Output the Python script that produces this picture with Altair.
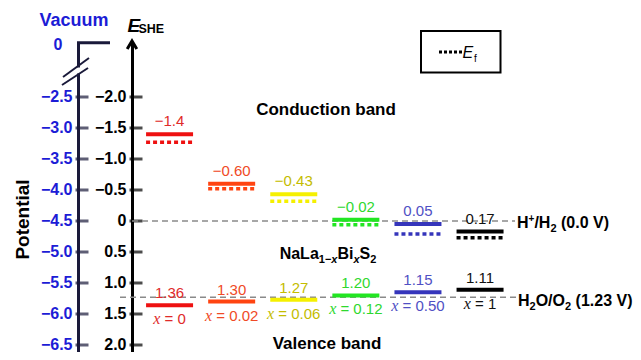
import altair as alt
import pandas as pd

# ---------------- data ----------------
compositions = ["0", "0.02", "0.06", "0.12", "0.50", "1"]
cb_values = [-1.4, -0.60, -0.43, -0.02, 0.05, 0.17]
cb_labels = ["\u22121.4", "\u22120.60", "\u22120.43", "\u22120.02", "0.05", "0.17"]
vb_values = [1.36, 1.30, 1.27, 1.20, 1.15, 1.11]
vb_labels = ["1.36", "1.30", "1.27", "1.20", "1.15", "1.11"]
ef_values = [-1.27, -0.52, -0.32, 0.06, 0.21, 0.27]
she_ticks = [-2.0, -1.5, -1.0, -0.5, 0.0, 0.5, 1.0, 1.5, 2.0]
redox_levels = [0.0, 1.23]
VAC_SHIFT = -4.5  # E(vacuum) = -4.5 - E(SHE)

# ---------------- style ----------------
bar_colors = ["#ee1111", "#ff4411", "#f5f000", "#22e622", "#3535bb", "#000000"]
text_colors = ["#e02a2a", "#f04a26", "#c4bc00", "#2fd82f", "#5050c4", "#111111"]
BLUE = "#1c1cd6"
NAVY = "#1a1a3a"
FONT = "Liberation Sans"

PLOT_W, PLOT_H = 501, 310
PAD_L, PAD_T = 124, 34
X_DOM = [-0.605, 7.463]
Y_DOM = [-2.887, 2.113]
PX = PLOT_W / (X_DOM[1] - X_DOM[0])
PY = PLOT_H / (Y_DOM[1] - Y_DOM[0])
ORG_X, ORG_Y = PAD_L + 8, PAD_T + 8


def ux(px):
    return X_DOM[0] + (px - ORG_X) / PX


def uy(py):
    return Y_DOM[0] + (py - ORG_Y) / PY


HALF = 23.5 / PX
she_x = X_DOM[0]
vac_x = ux(78)

xs = alt.Scale(domain=X_DOM, nice=False, zero=False)
ys = alt.Scale(domain=Y_DOM, reverse=True, nice=False, zero=False)
stroke_scale = alt.Scale(domain=compositions, range=bar_colors)
fill_scale = alt.Scale(domain=compositions, range=text_colors)


def X(f):
    return alt.X(f, type="quantitative", scale=xs, axis=None)


def Y(f, axis=None):
    return alt.Y(f, type="quantitative", scale=ys, axis=axis)


# approximate Arial advance widths (em)
WID = {" ": 0.278, "\u00a0": 0.278, "=": 0.584, ".": 0.278, "(": 0.333, ")": 0.333,
       "/": 0.278, "+": 0.584, "\u2212": 0.584, "V": 0.667, "H": 0.722, "O": 0.778,
       "N": 0.722, "a": 0.556, "L": 0.611, "B": 0.722, "i": 0.278, "S": 0.667, "x": 0.556}


def tw(s, size):
    return sum(WID.get(c, 0.556) for c in s) * size


def rich(pieces, x_px, base_py, align="left"):
    """pieces: (text, size, baseline shift px, italic); leading spaces become gaps"""
    total = sum(tw(t, s) for t, s, _, _ in pieces)
    cur = x_px - (total / 2 if align == "center" else 0)
    rows = []
    for t, s, sh, it in pieces:
        shown = t.lstrip(" ")
        lead = tw(t[: len(t) - len(shown)], s)
        rows.append({"text": shown, "x": ux(cur + lead), "y": uy(base_py + sh), "s": s, "it": it})
        cur += tw(t, s)
    return rows


LBL = 15
SP = tw(" ", LBL)
df = pd.DataFrame({
    "comp": compositions,
    "i": list(range(len(compositions))),
    "cb": cb_values,
    "vb": vb_values,
    "ef": ef_values,
    "cb_label": cb_labels,
    "vb_label": vb_labels,
})
df["x1"] = df["i"] - HALF
df["x2"] = df["i"] + HALF
df["rest"] = ["=\u00a0" + c for c in compositions]
xw = 0.444 * 16
df["xs"] = [i + (xw - SP - tw(r, LBL)) / 2 / PX for i, r in zip(df["i"], df["rest"])]
df["xt"] = "x"

# ---------------- axes ----------------
tick_df = pd.DataFrame({"E": she_ticks, "xa": she_x, "xv": vac_x})

she_axis = alt.Axis(
    orient="left", offset=0, values=she_ticks, ticks=False, grid=False,
    domain=True, domainColor="black", domainWidth=3,
    labelExpr="datum.value == 0 ? '0' : format(datum.value, '.1f')",
    labelFont=FONT, labelFontWeight="bold", labelFontSize=16, labelColor="black",
    labelPadding=6, title=None,
)
vac_axis = alt.Axis(
    orient="left", offset=ORG_X - 78, values=she_ticks, ticks=False, grid=False,
    domain=True, domainColor=NAVY, domainWidth=3,
    labelExpr=f"format({VAC_SHIFT} - datum.value, '.1f')",
    labelFont=FONT, labelFontWeight="bold", labelFontSize=16, labelColor=BLUE,
    labelPadding=6,
    title="Potential", titleFont=FONT, titleFontWeight="bold", titleFontSize=19,
    titleColor="black", titleAngle=270, titleAlign="center", titleBaseline="alphabetic",
    titleX=28 - 78, titleY=219 - ORG_Y,
)

vac_ticks_layer = alt.Chart(tick_df).mark_tick(
    orient="horizontal", size=13, thickness=3, xOffset=4, color=NAVY
).encode(x=X("xv"), y=Y("E", vac_axis))

she_ticks_layer = alt.Chart(tick_df).mark_tick(
    orient="horizontal", size=13, thickness=3, xOffset=4, color="black"
).encode(x=X("xa"), y=Y("E", she_axis))

# ---------------- reference redox lines ----------------
redox_df = pd.DataFrame({
    "E": redox_levels,
    "x1": [she_x, ux(120)],
    "x2": [ux(515), ux(517)],
})
redox_lines = alt.Chart(redox_df).mark_rule(
    color="#8a8a8a", strokeWidth=1.5, strokeDash=[6, 4]
).encode(x=X("x1"), x2="x2", y=Y("E"))

# ---------------- band levels ----------------
base = alt.Chart(df)
cb_bars = base.mark_rule(strokeWidth=4).encode(
    x=X("x1"), x2="x2", y=Y("cb"), stroke=alt.Stroke("comp:N", scale=stroke_scale, legend=None))
ef_lines = base.mark_rule(strokeWidth=3.5, strokeDash=[4, 3]).encode(
    x=X("x1"), x2="x2", y=Y("ef"), stroke=alt.Stroke("comp:N", scale=stroke_scale, legend=None))
vb_bars = base.mark_rule(strokeWidth=4).encode(
    x=X("x1"), x2="x2", y=Y("vb"), stroke=alt.Stroke("comp:N", scale=stroke_scale, legend=None))

cb_text = base.mark_text(dy=-13, baseline="middle", font=FONT, fontSize=LBL).encode(
    x=X("i"), y=Y("cb"), text="cb_label:N", fill=alt.Fill("comp:N", scale=fill_scale, legend=None))
vb_text = base.mark_text(dy=-12, baseline="middle", font=FONT, fontSize=LBL).encode(
    x=X("i"), y=Y("vb"), text="vb_label:N", fill=alt.Fill("comp:N", scale=fill_scale, legend=None))
x_italic = base.mark_text(dy=14, align="right", baseline="middle", font="Liberation Serif",
                          fontStyle="italic", fontSize=16).encode(
    x=X("xs"), y=Y("vb"), text="xt:N", fill=alt.Fill("comp:N", scale=fill_scale, legend=None))
x_rest = base.mark_text(dy=14, dx=SP, align="left", baseline="middle", font=FONT,
                        fontSize=LBL).encode(
    x=X("xs"), y=Y("vb"), text="rest:N", fill=alt.Fill("comp:N", scale=fill_scale, legend=None))

# ---------------- rich bold labels (sub/superscripts) ----------------
rich_rows = []
rich_rows += rich([("H", 16, 0, False), ("+", 10, -6, False), ("/H", 16, 0, False),
                   ("2", 11, 4, False), (" (0.0 V)", 16, 0, False)], 517, 227.5)
rich_rows += rich([("H", 16, 0, False), ("2", 11, 4, False), ("O/O", 16, 0, False),
                   ("2", 11, 4, False), (" (1.23 V)", 16, 0, False)], 518, 305.5)
rich_rows += rich([("NaLa", 16, 0, False), ("1\u2212", 11, 4, False), ("x", 11, 4, True),
                   ("Bi", 16, 0, False), ("x", 11, 4, True), ("S", 16, 0, False),
                   ("2", 11, 4, False)], 328, 258.5, align="center")
rich_df = pd.DataFrame(rich_rows)
rich_plain = alt.Chart(rich_df).transform_filter("!datum.it").mark_text(
    align="left", baseline="alphabetic", font=FONT, fontWeight="bold", color="black"
).encode(x=X("x"), y=Y("y"), text="text:N", size=alt.Size("s:Q", scale=None, legend=None))
rich_ital = alt.Chart(rich_df).transform_filter("datum.it").mark_text(
    align="left", baseline="alphabetic", font=FONT, fontWeight="bold", fontStyle="italic",
    color="black"
).encode(x=X("x"), y=Y("y"), text="text:N", size=alt.Size("s:Q", scale=None, legend=None))

band_df = pd.DataFrame({
    "text": ["Conduction band", "Valence band"],
    "x": [ux(326), ux(327)],
    "y": [uy(110), uy(344)],
})
band_text = alt.Chart(band_df).mark_text(
    align="center", baseline="middle", font=FONT, fontWeight="bold", fontSize=17, color="black"
).encode(x=X("x"), y=Y("y"), text="text:N")

vac_title = alt.Chart(pd.DataFrame({"text": ["Vacuum", "0"], "x": [ux(74), ux(58)],
                                    "y": [uy(21), uy(44.5)], "s": [18, 16]})).mark_text(
    align="center", baseline="middle", font=FONT, fontWeight="bold", color=BLUE
).encode(x=X("x"), y=Y("y"), text="text:N", size=alt.Size("s:Q", scale=None, legend=None))

e_main = alt.Chart(pd.DataFrame({"text": ["E"], "x": [ux(127.5)], "y": [uy(32)]})).mark_text(
    align="left", baseline="alphabetic", font=FONT, fontWeight="bold", fontStyle="italic",
    fontSize=19, color="black").encode(x=X("x"), y=Y("y"), text="text:N")
e_sub = alt.Chart(pd.DataFrame({"text": ["SHE"], "x": [ux(138.5)], "y": [uy(33)]})).mark_text(
    align="left", baseline="alphabetic", font=FONT, fontWeight="bold",
    fontSize=12.5, color="black").encode(x=X("x"), y=Y("y"), text="text:N")

arrow = alt.Chart(pd.DataFrame({"x": [she_x], "y": [uy(41)]})).mark_point(
    shape="M-0.6,1L0,0L0.6,1", filled=False, strokeWidth=3, size=256, color="black", opacity=1
).encode(x=X("x"), y=Y("y"))

zero_line = alt.Chart(pd.DataFrame({"x1": [ux(77)], "x2": [ux(110)], "y": [uy(42.7)]})).mark_rule(
    strokeWidth=3, color=NAVY).encode(x=X("x1"), x2="x2", y=Y("y"))

gap = alt.Chart(pd.DataFrame({"x": [vac_x], "y1": [uy(67.5)], "y2": [uy(73.5)]})).mark_rule(
    strokeWidth=6, color="white").encode(x=X("x"), y=Y("y1"), y2="y2")

slashes = alt.Chart(pd.DataFrame({
    "x1": [ux(63), ux(62)], "x2": [ux(89), ux(88)],
    "y1": [uy(77), uy(85)], "y2": [uy(58), uy(68)],
})).mark_rule(strokeWidth=2, color=NAVY).encode(x=X("x1"), x2="x2", y=Y("y1"), y2="y2")

# legend box
leg_box = alt.Chart(pd.DataFrame({"x1": [ux(421)], "x2": [ux(500.5)],
                                  "y1": [uy(31)], "y2": [uy(72.5)]})).mark_rect(
    fill="white", stroke="black", strokeWidth=2).encode(x=X("x1"), x2="x2", y=Y("y1"), y2="y2")
leg_dots = alt.Chart(pd.DataFrame({"x1": [ux(439)], "x2": [ux(462)], "y": [uy(52)]})).mark_rule(
    strokeWidth=3, strokeDash=[3, 2], color="black").encode(x=X("x1"), x2="x2", y=Y("y"))
leg_e = alt.Chart(pd.DataFrame({"text": ["E"], "x": [ux(462.5)], "y": [uy(57.5)]})).mark_text(
    align="left", baseline="alphabetic", font=FONT, fontStyle="italic", fontSize=16,
    color="black").encode(x=X("x"), y=Y("y"), text="text:N")
leg_f = alt.Chart(pd.DataFrame({"text": ["f"], "x": [ux(474)], "y": [uy(61.5)]})).mark_text(
    align="left", baseline="alphabetic", font=FONT, fontSize=10,
    color="black").encode(x=X("x"), y=Y("y"), text="text:N")

chart = alt.layer(
    vac_ticks_layer, she_ticks_layer, redox_lines,
    cb_bars, ef_lines, vb_bars, cb_text, vb_text, x_italic, x_rest,
    rich_plain, rich_ital, band_text, vac_title, e_main, e_sub, arrow, zero_line,
    gap, slashes, leg_box, leg_dots, leg_e, leg_f,
).resolve_scale(y="independent").properties(
    width=PLOT_W, height=PLOT_H,
    autosize=alt.AutoSizeParams(type="none"),
    padding={"left": PAD_L, "top": PAD_T, "right": 0, "bottom": 0},
    background="white",
).configure_view(stroke=None)

chart.save("out.html", embed_options={"renderer": "svg", "actions": False})
